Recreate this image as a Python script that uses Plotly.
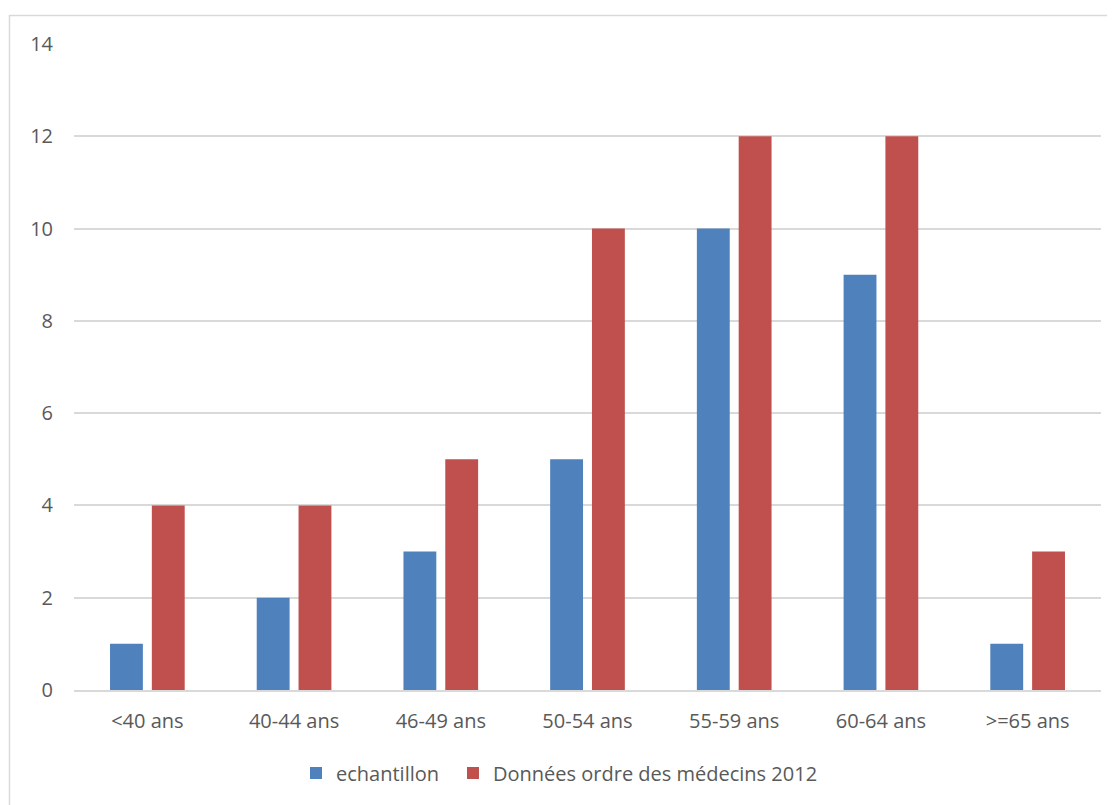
import plotly.graph_objects as go

categories = ["<40 ans", "40-44 ans", "46-49 ans", "50-54 ans", "55-59 ans", "60-64 ans", ">=65 ans"]
echantillon = [1, 2, 3, 5, 10, 9, 1]
ordre_2012 = [4, 4, 5, 10, 12, 12, 3]
y_ticks = [0, 2, 4, 6, 8, 10, 12, 14]

W, H = 1115, 805
L, R, T, B = 66, 22, 36, 123
pw, ph = W - L - R, H - T - B

def px_x(p):
    return (p - L) / pw

def px_y(p):
    return (H - B - p) / ph

fig = go.Figure()
fig.add_trace(go.Bar(name="echantillon", x=categories, y=echantillon, legend="legend",
                     marker=dict(color="#4f81bd", line=dict(width=0))))
fig.add_trace(go.Bar(name="Données ordre des médecins 2012", x=categories, y=ordre_2012,
                     legend="legend2", marker=dict(color="#c0504d", line=dict(width=0))))

fig.add_shape(type="rect", xref="paper", yref="paper",
              x0=px_x(1.5), x1=px_x(1125), y0=px_y(815), y1=px_y(7.5),
              line=dict(color="#d9d9d9", width=1.5), fillcolor="rgba(0,0,0,0)", layer="below")

legend_common = dict(orientation="h", xanchor="left", y=px_y(765), yanchor="middle",
                     font=dict(size=20, color="#595959"), itemwidth=30,
                     bgcolor="rgba(0,0,0,0)")

fig.update_layout(
    width=W, height=H,
    margin=dict(l=L, r=R, t=T, b=B),
    paper_bgcolor="white", plot_bgcolor="white",
    barmode="group", bargap=0.43, bargroupgap=0.214,
    font=dict(family="Open Sans", size=20, color="#595959"),
    showlegend=True,
    legend=dict(x=px_x(288), **legend_common),
    legend2=dict(x=px_x(445), **legend_common),
    xaxis=dict(showgrid=False, showline=True, linecolor="#d9d9d9", linewidth=1.5,
               ticks="", ticklabelstandoff=12, tickfont=dict(size=20, color="#595959")),
    yaxis=dict(range=[0, 14], tickvals=y_ticks, showgrid=True, gridcolor="#d9d9d9", gridwidth=1.5,
               zeroline=False, showline=False, ticks="", ticklabelstandoff=20,
               tickfont=dict(size=20, color="#595959")),
)

fig.write_html("out.html")
